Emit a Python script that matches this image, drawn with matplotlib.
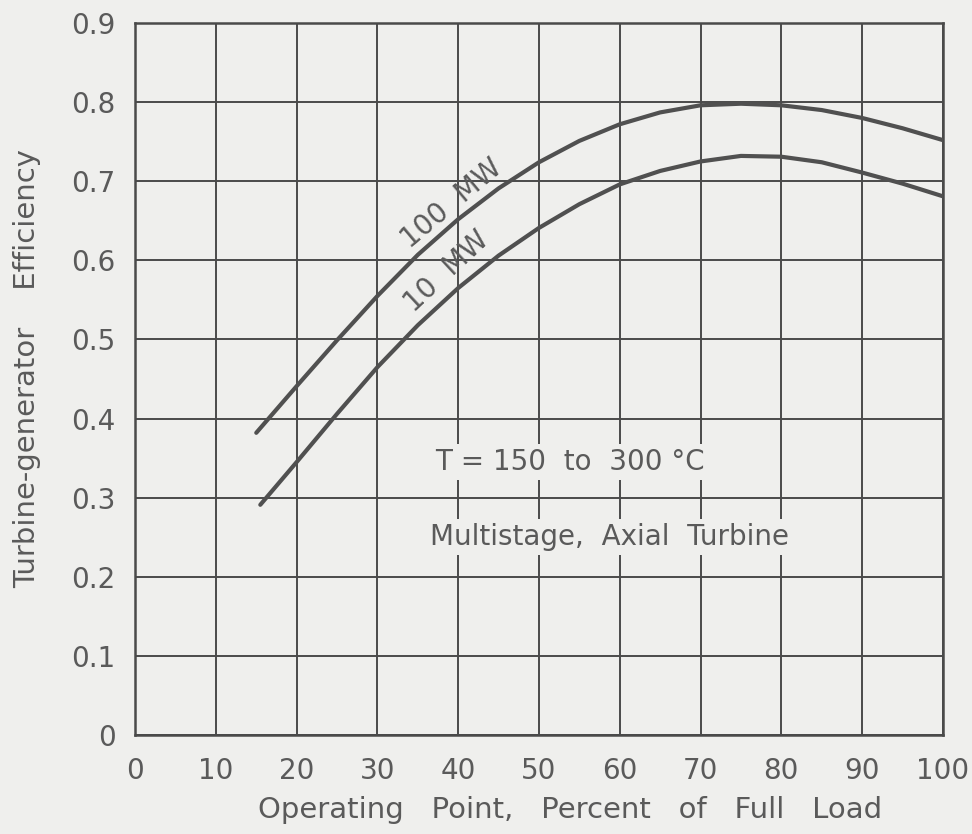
import matplotlib.pyplot as plt

# turbine-generator efficiency vs. part load, two unit sizes
load_100mw = [15, 20, 25, 30, 35, 40, 45, 50, 55, 60, 65, 70, 75, 80, 85, 90, 95, 100]
eff_100mw = [0.382, 0.441, 0.499, 0.555, 0.607, 0.652, 0.691, 0.724, 0.751, 0.772, 0.787,
             0.796, 0.798, 0.796, 0.790, 0.780, 0.767, 0.752]

load_10mw = [15.5, 20, 25, 30, 35, 40, 45, 50, 55, 60, 65, 70, 75, 80, 85, 90, 95, 100]
eff_10mw = [0.291, 0.345, 0.406, 0.465, 0.518, 0.565, 0.606, 0.641, 0.671, 0.696, 0.713,
            0.725, 0.732, 0.731, 0.724, 0.711, 0.697, 0.681]

x_ticks = list(range(0, 101, 10))
y_ticks = [0, 0.1, 0.2, 0.3, 0.4, 0.5, 0.6, 0.7, 0.8, 0.9]
y_ticklabels = ["0", "0.1", "0.2", "0.3", "0.4", "0.5", "0.6", "0.7", "0.8", "0.9"]

bg = "#efefed"
ink = "#4a4a4a"
txt = "#5a5a5a"

plt.rcParams["font.family"] = ["DejaVu Sans"]

fig = plt.figure(figsize=(9.72, 8.34), dpi=100, facecolor=bg)
ax = fig.add_axes([0.139, 0.1187, 0.831, 0.8537])
ax.set_facecolor(bg)

ax.plot(load_100mw, eff_100mw, color="#505050", lw=3.0, solid_capstyle="round", zorder=3)
ax.plot(load_10mw, eff_10mw, color="#505050", lw=3.0, solid_capstyle="round", zorder=3)

ax.set_xlim(0, 100)
ax.set_ylim(0, 0.9)
ax.set_xticks(x_ticks)
ax.set_yticks(y_ticks)
ax.set_yticklabels(y_ticklabels)
ax.tick_params(length=0, labelsize=20, labelcolor=txt)
ax.tick_params(axis="x", pad=16)
ax.tick_params(axis="y", pad=14)
ax.grid(True, color=ink, lw=1.4)
for s in ax.spines.values():
    s.set_color(ink)
    s.set_linewidth(1.8)

ax.set_xlabel("Operating   Point,   Percent   of   Full   Load", fontsize=21, color=txt)
ax.xaxis.set_label_coords(0.538, -0.085)
ax.set_ylabel("Turbine-generator    Efficiency", fontsize=21, color=txt)
ax.yaxis.set_label_coords(-0.116, 0.515)

ax.text(39.2, 0.672, "100  MW", rotation=40, fontsize=20, color=txt,
        ha="center", va="center", rotation_mode="anchor", zorder=4)
ax.text(38.6, 0.586, "10  MW", rotation=43, fontsize=20, color=txt,
        ha="center", va="center", rotation_mode="anchor", zorder=4)

box = dict(facecolor=bg, edgecolor="none", pad=3)
ax.text(37.1, 0.345, "T = 150  to  300 °C", fontsize=20, color=txt,
        ha="left", va="center", bbox=box, zorder=4)
ax.text(36.5, 0.25, "Multistage,  Axial  Turbine", fontsize=20, color=txt,
        ha="left", va="center", bbox=box, zorder=4)

fig.savefig("out.png", dpi=100, facecolor=bg)
